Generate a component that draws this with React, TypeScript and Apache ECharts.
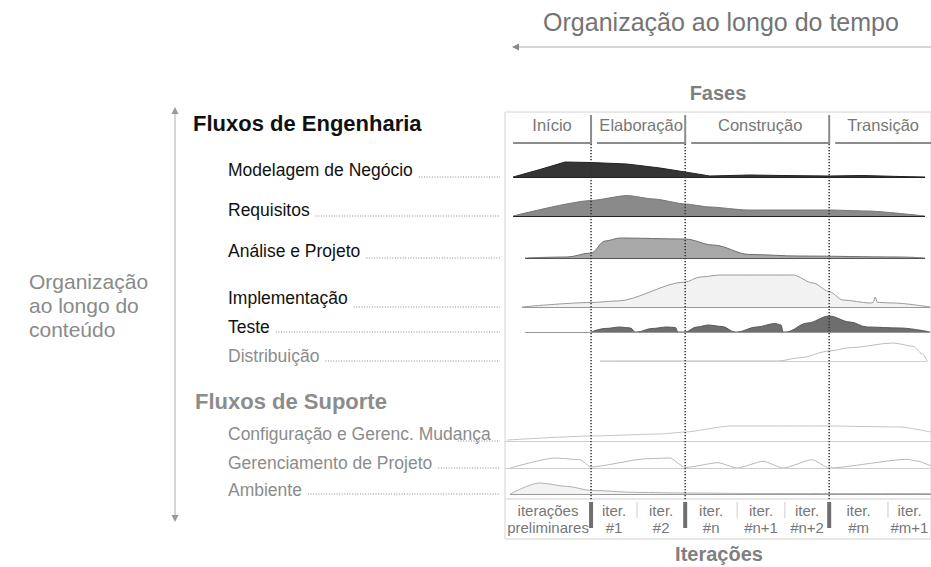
import React, { useEffect, useRef } from "react";
import * as echarts from "echarts";

const FONT = "'Liberation Sans', Arial, Helvetica, sans-serif";

// ---- Phases / iterations (timeline in % of the project, 0..100) ----
const phaseNames = ["Início", "Elaboração", "Construção", "Transição"];
const phaseBounds = [0, 20.2, 42.3, 76.1, 100];
const iterationLabels = [
  "iterações\npreliminares",
  "iter.\n#1",
  "iter.\n#2",
  "iter.\n#n",
  "iter.\n#n+1",
  "iter.\n#n+2",
  "iter.\n#m",
  "iter.\n#m+1",
];
const iterationBounds = [0, 20.2, 31.0, 42.3, 54.5, 65.7, 76.1, 89.9, 100];

// ---- Workflows ----
const engineeringTitle = "Fluxos de Engenharia";
const supportTitle = "Fluxos de Suporte";
const workflowNames = [
  "Modelagem de Negócio",
  "Requisitos",
  "Análise e Projeto",
  "Implementação",
  "Teste",
  "Distribuição",
  "Configuração e Gerenc. Mudança",
  "Gerenciamento de Projeto",
  "Ambiente",
];

// effort curves: [time %, relative effort]
const modelagemNegocio = [
  [1.9, 0], [8.2, 7.5], [14.1, 15], [20.2, 14.5], [28.6, 13], [36.4, 9], [42.3, 5],
  [48.1, 1], [52.8, 1.5], [57.5, 2], [65, 1.5], [76.1, 1], [84, 1.5], [92.7, 0.5], [98.6, 0],
];
const requisitos = [
  [1.9, 0], [20.2, 15.5], [28.6, 20.5], [35, 17], [42.3, 12], [48.1, 9], [56.8, 6],
  [76.1, 6], [85, 5], [98.6, 0],
];
const analiseProjeto = [
  [4.7, 0], [14.5, 1], [20.2, 5], [23.5, 17], [27, 20], [42.3, 19], [48.8, 13],
  [57.5, 3.5], [69, 2], [92.7, 1], [98.6, 0],
];
const implementacao = [
  [4, 0], [20.2, 4.5], [26.3, 6], [42.3, 25], [45.8, 30], [50.5, 32], [67.6, 32],
  [72.3, 24], [76.1, 15.5], [79.3, 7], [85.7, 4], [86.4, 4.5], [86.9, 10], [87.4, 4.8],
  [88, 4.5], [91.1, 4], [99.8, 0],
];
const teste = [
  [20.2, 0], [23.5, 3.5], [27, 5], [29.5, 4], [30.5, 0],
  [31, 0], [34.5, 3.5], [38, 5], [40, 4.5], [40.6, 0],
  [42.3, 0], [45, 5], [47.7, 7], [51, 5.5], [54, 0],
  [54.5, 0], [59, 5], [63.4, 8.5], [64.8, 7], [65.3, 0],
  [66, 0], [71, 9], [76.1, 16], [81, 10], [85, 5], [92.7, 4], [99.8, 0],
];
const distribuicao = [
  [22.3, 0], [64.1, 0], [69.3, 3.3], [76.1, 10], [81, 13.3], [91.1, 18], [95.8, 14.7],
  [97.9, 7.3], [99.1, 0],
];
const configuracao = [
  [0.5, 1], [20.2, 5], [36.4, 7], [42.3, 9], [52.8, 15], [76.1, 15], [92.7, 14], [100, 9],
];
const gerenciamento = [
  [1.2, 0], [11.7, 10], [17.6, 8.3], [20.2, 1], [33.3, 9.3], [38.7, 10], [42.3, 0.5],
  [50, 5.3], [54.5, 0], [60.6, 6.7], [65.3, 0], [72.1, 8.3], [76.1, 0], [94.4, 8.7],
  [96.7, 7], [100, 2],
];
const ambiente = [
  [1.2, 0], [8.2, 11], [14.6, 7.6], [20.2, 3.6], [31, 1.6], [42.3, 1], [57.5, 0.5], [100, 0.5],
];

const seriesData = [
  modelagemNegocio, requisitos, analiseProjeto, implementacao, teste,
  distribuicao, configuracao, gerenciamento, ambiente,
];

// layout + style per row (no data here)
const rowLayout = [
  { baseline: 177, labelY: 170, text: "#111", fill: "#353535", line: "#222", base: "#222", extent: [1.9, 98.6], smooth: 0 },
  { baseline: 216, labelY: 210, text: "#111", fill: "#8a8a8a", line: "#777", base: "#222", extent: [1.9, 98.6], smooth: 0.2 },
  { baseline: 258, labelY: 251, text: "#111", fill: "#a8a8a8", line: "#6f6f6f", base: "#555", extent: [4.7, 98.6], smooth: 0.35 },
  { baseline: 307, labelY: 298, text: "#111", fill: "#f2f2f2", line: "#9a9a9a", base: "#999", extent: [4, 99.8], smooth: 0.3 },
  { baseline: 332, labelY: 327, text: "#111", fill: "#6e6e6e", line: "#5a5a5a", base: "#999", extent: [4.7, 99.8], smooth: 0.35 },
  { baseline: 361, labelY: 356, text: "#8c8c8c", fill: null, line: "#bdbdbd", base: "#d0d0d0", extent: [22.3, 99.1], smooth: 0.3 },
  { baseline: 441, labelY: 434, text: "#8c8c8c", fill: null, line: "#c4c4c4", base: "#cfcfcf", extent: [0, 100], smooth: 0.2 },
  { baseline: 468, labelY: 463, text: "#8c8c8c", fill: null, line: "#b8b8b8", base: "#cfcfcf", extent: [0, 100], smooth: 0.2 },
  { baseline: 494, labelY: 490, text: "#8c8c8c", fill: "#f3f3f3", line: "#b0b0b0", base: "#9a9a9a", extent: [1.2, 100], smooth: 0.3 },
];

const BOX_LEFT = 505;
const BOX_TOP = 112;
const BOX_W = 426;
const BOX_H = 427;
const ROW_H = 40;

function textWidth(text: string, font: string): number {
  const ctx = document.createElement("canvas").getContext("2d");
  if (!ctx) return text.length * 8;
  ctx.font = font;
  return ctx.measureText(text).width;
}

export default function App() {
  const ref = useRef<HTMLDivElement>(null);

  useEffect(() => {
    if (!ref.current) return;
    const chart = echarts.init(ref.current, undefined, { renderer: "svg" });

    const grids: any[] = [
      {
        left: BOX_LEFT, top: BOX_TOP, width: BOX_W, height: BOX_H,
        show: true, borderColor: "#d2d2d2", borderWidth: 1, backgroundColor: "transparent",
      },
    ];
    const xAxes: any[] = [{ gridIndex: 0, type: "value", min: 0, max: 100, show: false }];
    const yAxes: any[] = [{ gridIndex: 0, type: "value", min: 0, max: BOX_H, inverse: true, show: false }];
    const series: any[] = [];

    rowLayout.forEach((r, i) => {
      grids.push({ left: BOX_LEFT, top: r.baseline - ROW_H, width: BOX_W, height: ROW_H, show: false });
      xAxes.push({ gridIndex: i + 1, type: "value", min: 0, max: 100, show: false });
      yAxes.push({ gridIndex: i + 1, type: "value", min: 0, max: ROW_H, show: false });
      series.push({
        name: workflowNames[i],
        type: "line",
        xAxisIndex: i + 1,
        yAxisIndex: i + 1,
        data: seriesData[i],
        symbol: "none",
        smooth: r.smooth,
        smoothMonotone: "x",
        lineStyle: { color: r.line, width: 1 },
        areaStyle: r.fill ? { color: r.fill, opacity: 1 } : undefined,
        silent: true,
        z: 3,
        markLine: {
          silent: true,
          symbol: "none",
          label: { show: false },
          lineStyle: { color: r.base, width: 1.2, type: "solid" },
          data: [[{ coord: [r.extent[0], 0] }, { coord: [r.extent[1], 0] }]],
        },
      });
    });

    // phase header brackets and names
    series.push({
      type: "custom",
      xAxisIndex: 0,
      yAxisIndex: 0,
      silent: true,
      z: 5,
      data: phaseNames.map((_, i) => [phaseBounds[i], phaseBounds[i + 1], i]),
      renderItem: (params: any, api: any) => {
        const s = api.value(0);
        const e = api.value(1);
        const i = api.value(2);
        const gap = i === 0 ? 1.9 : 1.4;
        const last = i === phaseNames.length - 1;
        const pL = api.coord([s + gap, 31]);
        const pR = api.coord([e, 31]);
        const pT = api.coord([e, 3]);
        const mid = api.coord([(s + gap + e) / 2, 13]);
        const children: any[] = [
          { type: "line", shape: { x1: pL[0], y1: pL[1], x2: pR[0], y2: pR[1] }, style: { stroke: "#8c8c8c", lineWidth: 2 } },
          {
            type: "text", x: mid[0], y: mid[1],
            style: { text: phaseNames[i], fill: "#777", fontSize: 16.5, fontFamily: FONT, align: "center", verticalAlign: "middle" },
          },
        ];
        if (!last) {
          children.push({ type: "line", shape: { x1: pT[0], y1: pT[1], x2: pR[0], y2: pR[1] + 1 }, style: { stroke: "#8c8c8c", lineWidth: 2 } });
        }
        return { type: "group", children };
      },
    });

    // dotted phase boundaries
    series.push({
      type: "custom",
      xAxisIndex: 0,
      yAxisIndex: 0,
      silent: true,
      z: 6,
      data: phaseBounds.slice(1, -1).map((t) => [t, 0]),
      renderItem: (params: any, api: any) => {
        const t = api.value(0);
        const a = api.coord([t, 32]);
        const b = api.coord([t, 388]);
        return {
          type: "line",
          shape: { x1: a[0], y1: a[1], x2: b[0], y2: b[1] },
          style: { stroke: "#333", lineWidth: 1.5, lineDash: [1.2, 1.8] },
        };
      },
    });

    // iteration row
    series.push({
      type: "custom",
      xAxisIndex: 0,
      yAxisIndex: 0,
      silent: true,
      z: 5,
      data: iterationLabels.map((_, i) => [iterationBounds[i], iterationBounds[i + 1], i]),
      renderItem: (params: any, api: any) => {
        const s = api.value(0);
        const e = api.value(1);
        const i = api.value(2);
        const last = i === iterationLabels.length - 1;
        const l0 = api.coord([s, 387]);
        const l1 = api.coord([e, 387]);
        const mid = api.coord([(s + e) / 2, 407]);
        const children: any[] = [
          { type: "line", shape: { x1: l0[0], y1: l0[1], x2: l1[0], y2: l1[1] }, style: { stroke: "#cfcfcf", lineWidth: 1 } },
          {
            type: "text", x: mid[0], y: mid[1],
            style: {
              text: iterationLabels[i], fill: "#777", fontSize: 15, fontFamily: FONT,
              align: "center", verticalAlign: "middle", lineHeight: 17,
            },
          },
        ];
        if (!last) {
          const isPhase = phaseBounds.some((p) => Math.abs(p - e) < 0.01);
          if (isPhase) {
            const a = api.coord([e, 390]);
            const b = api.coord([e, 416]);
            children.push({ type: "rect", shape: { x: a[0] - 2, y: a[1], width: 4, height: b[1] - a[1] }, style: { fill: "#6f6f6f" } });
          } else {
            const a = api.coord([e, 390]);
            const b = api.coord([e, 406]);
            children.push({ type: "line", shape: { x1: a[0], y1: a[1], x2: b[0], y2: b[1] }, style: { stroke: "#cccccc", lineWidth: 1 } });
          }
        }
        return { type: "group", children };
      },
    });

    // left side texts
    const labelFont = `17.5px ${FONT}`;
    const graphic: any[] = [];
    const txt = (x: number, y: number, text: string, fill: string, fontSize: number, bold = false, align = "left", lineHeight?: number) => ({
      type: "text",
      x,
      y,
      silent: true,
      style: {
        text, fill, fontSize, fontFamily: FONT, fontWeight: bold ? "bold" : "normal",
        align, verticalAlign: "middle", lineHeight,
      },
    });

    graphic.push(txt(721, 22, "Organização ao longo do tempo", "#747474", 25, false, "center"));
    graphic.push({ type: "line", silent: true, shape: { x1: 518, y1: 47, x2: 931, y2: 47 }, style: { stroke: "#c8c8c8", lineWidth: 1.5 } });
    graphic.push({ type: "polygon", silent: true, shape: { points: [[512, 47], [519, 43.5], [519, 50.5]] }, style: { fill: "#888" } });
    graphic.push(txt(718, 93, "Fases", "#7f7f7f", 20, true, "center"));
    graphic.push(txt(719, 554, "Iterações", "#7f7f7f", 20, true, "center"));

    graphic.push({ type: "line", silent: true, shape: { x1: 175, y1: 113, x2: 175, y2: 516 }, style: { stroke: "#c8c8c8", lineWidth: 1.5 } });
    graphic.push({ type: "polygon", silent: true, shape: { points: [[175, 107], [171.5, 114], [178.5, 114]] }, style: { fill: "#999" } });
    graphic.push({ type: "polygon", silent: true, shape: { points: [[175, 522], [171.5, 515], [178.5, 515]] }, style: { fill: "#999" } });

    graphic.push(txt(29, 305, "Organização\nao longo do\nconteúdo", "#8a8a8a", 21, false, "left", 24));

    graphic.push(txt(193, 123, engineeringTitle, "#111", 22, true));
    graphic.push(txt(195, 401, supportTitle, "#8c8c8c", 22, true));

    rowLayout.forEach((r, i) => {
      const name = workflowNames[i];
      graphic.push(txt(228, r.labelY, name, r.text, 17.5));
      const w = textWidth(name, labelFont);
      const start = Math.min(228 + w + 6, 458);
      graphic.push({
        type: "line",
        silent: true,
        shape: { x1: start, y1: r.baseline, x2: 500, y2: r.baseline },
        style: { stroke: "#8a8a8a", lineWidth: 1, lineDash: [1, 1.6] },
      });
    });

    chart.setOption({
      animation: false,
      backgroundColor: "#ffffff",
      grid: grids,
      xAxis: xAxes,
      yAxis: yAxes,
      series,
      graphic,
    });

    return () => chart.dispose();
  }, []);

  return <div ref={ref} style={{ position: "absolute", left: 0, top: 0, width: 931, height: 567 }} />;
}
